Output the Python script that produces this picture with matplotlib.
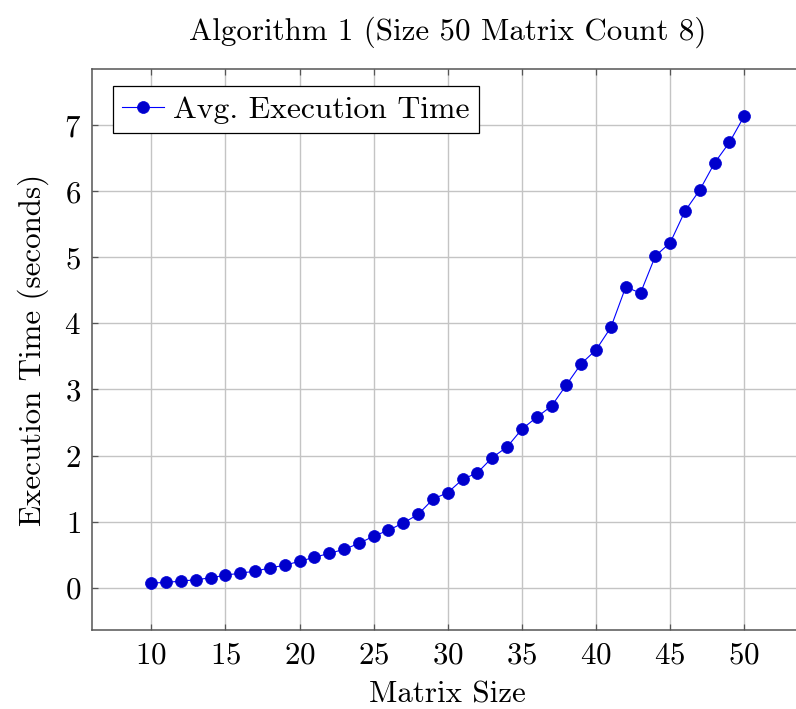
import matplotlib
matplotlib.use('Agg')
import matplotlib.pyplot as plt

# measured average times (seconds) per matrix size
sizes = list(range(10, 51))
times = [0.07, 0.08, 0.10, 0.12, 0.15, 0.19, 0.22, 0.25, 0.30, 0.34,
         0.40, 0.46, 0.52, 0.58, 0.67, 0.78, 0.87, 0.98, 1.11, 1.34,
         1.44, 1.64, 1.74, 1.97, 2.13, 2.40, 2.58, 2.75, 3.07, 3.39,
         3.60, 3.94, 4.55, 4.46, 5.02, 5.22, 5.70, 6.02, 6.43, 6.74,
         7.14]
x_ticks = [10, 15, 20, 25, 30, 35, 40, 45, 50]
y_ticks = [0, 1, 2, 3, 4, 5, 6, 7]

plt.rcParams['font.family'] = ['cmr10', 'DejaVu Serif']
plt.rcParams['axes.formatter.use_mathtext'] = True
plt.rcParams['mathtext.fontset'] = 'cm'
fs = 22.3

fig = plt.figure(figsize=(7.96, 7.09), dpi=100)
ax = fig.add_axes([92 / 796, 79 / 709, 711.6 / 796, 561 / 709])

ax.plot(sizes, times, color=(0, 0, 1), lw=0.8, marker='o', markersize=8.6,
        markerfacecolor=(0, 0, 0.8), markeredgecolor=(0, 0, 0.85),
        markeredgewidth=0.5, label='Avg. Execution Time', zorder=3)

ax.set_xlim(6, 54)
ax.set_ylim(-0.64, 7.85)
ax.set_xticks(x_ticks)
ax.set_yticks(y_ticks)
ax.grid(True, color='#c4c4c4', lw=1.0)
ax.set_axisbelow(True)
ax.tick_params(direction='in', length=4, width=0.9, color='#555555',
               labelsize=fs, top=True, right=True, pad=8)
for s in ax.spines.values():
    s.set_color('#555555')
    s.set_linewidth(1.1)

ax.set_title('Algorithm 1 (Size 50 Matrix Count 8)', fontsize=fs, pad=21)
ax.set_xlabel('Matrix Size', fontsize=fs, labelpad=8)
ax.set_ylabel('Execution Time (seconds)', fontsize=fs, labelpad=11)

# legend box: left edge ~113 px, top edge ~86 px in the reference
leg = ax.legend(loc='upper left', bbox_to_anchor=(0.0295, 0.9697),
                fontsize=22.8, frameon=True, fancybox=False,
                edgecolor='black', framealpha=1, handlelength=1.3,
                handletextpad=0.3, borderpad=0.3, borderaxespad=0.0)
leg.get_frame().set_linewidth(0.9)

fig.savefig('out.png', dpi=100)
